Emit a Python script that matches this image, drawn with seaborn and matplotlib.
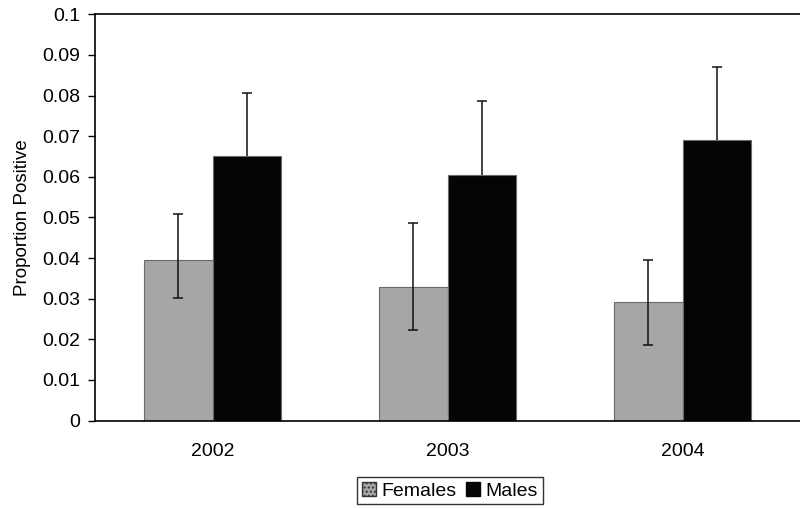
import pandas as pd
import matplotlib
matplotlib.use("Agg")
import matplotlib.pyplot as plt
import seaborn as sns
from matplotlib.patches import Patch

years = ["2002", "2003", "2004"]
females = [0.0396, 0.0330, 0.0293]
males = [0.0652, 0.0605, 0.0690]
females_low = [0.0301, 0.0223, 0.0186]
females_high = [0.0509, 0.0486, 0.0396]
males_low = [0.0498, 0.0423, 0.0510]
males_high = [0.0806, 0.0787, 0.0870]

df = pd.DataFrame({
    "Year": years * 2,
    "Sex": ["Females"] * 3 + ["Males"] * 3,
    "Value": females + males,
})

sns.set_style("white")
plt.rcParams['font.family'] = ['Liberation Sans', 'DejaVu Sans']
plt.rcParams['text.color'] = 'black'
plt.rcParams['axes.labelcolor'] = 'black'
plt.rcParams['xtick.color'] = 'black'
plt.rcParams['ytick.color'] = 'black'

fig = plt.figure(figsize=(8, 5.08), dpi=100)
ax = fig.add_axes([0.119, 0.172, 0.881, 0.8])

palette = {"Females": "#a6a6a6", "Males": "#050505"}
sns.barplot(data=df, x="Year", y="Value", hue="Sex", palette=palette,
            width=0.585, gap=0, legend=False, ax=ax,
            edgecolor="#6a6a6a", linewidth=0.8, saturation=1)

# error bars from bar centres; males behind their bars so only the upper part shows
lows = females_low + males_low
highs = females_high + males_high
zs = [3] * 3 + [0.5] * 3
for p, v, lo, hi, z in zip(ax.patches, df["Value"], lows, highs, zs):
    cx = p.get_x() + p.get_width() / 2
    ax.errorbar(cx, v, yerr=[[v - lo], [hi - v]], fmt="none", zorder=z,
                ecolor="#111111", elinewidth=1.1, capsize=3.5, capthick=1.1)

ax.set_ylim(0, 0.1)
ax.set_xlim(-0.5, 2.5)
ax.set_yticks([i / 100 for i in range(11)])
ax.set_yticklabels(["0"] + [f"{i/100:.2f}" for i in range(1, 10)] + ["0.1"])
ax.set_xticks([0.5, 1.5, 2.5], minor=True)
ax.tick_params(axis="x", which="major", length=0, labelsize=14, pad=16)
ax.tick_params(axis="x", which="minor", length=5, width=1, direction="out")
ax.tick_params(axis="y", length=5, width=1, direction="out", labelsize=14, left=True, pad=6)
ax.set_xlabel("")
ax.set_ylabel("Proportion Positive", fontsize=13.5, labelpad=8)

for s in ["left", "bottom", "top"]:
    ax.spines[s].set_color("black")
    ax.spines[s].set_linewidth(1.2)
ax.spines["right"].set_visible(False)

handles = [Patch(facecolor="#a6a6a6", edgecolor="#333333", hatch="....", label="Females"),
           Patch(facecolor="#050505", edgecolor="#050505", label="Males")]
leg = fig.legend(handles=handles, loc="center", bbox_to_anchor=(0.5625, 0.034), ncol=2,
                 frameon=True, fancybox=False, fontsize=14, handlelength=0.7,
                 handleheight=0.7, handletextpad=0.3, columnspacing=0.5,
                 borderpad=0.25, edgecolor="black")
leg.get_frame().set_linewidth(1.0)

fig.savefig("out.png", dpi=100)
plt.close(fig)
